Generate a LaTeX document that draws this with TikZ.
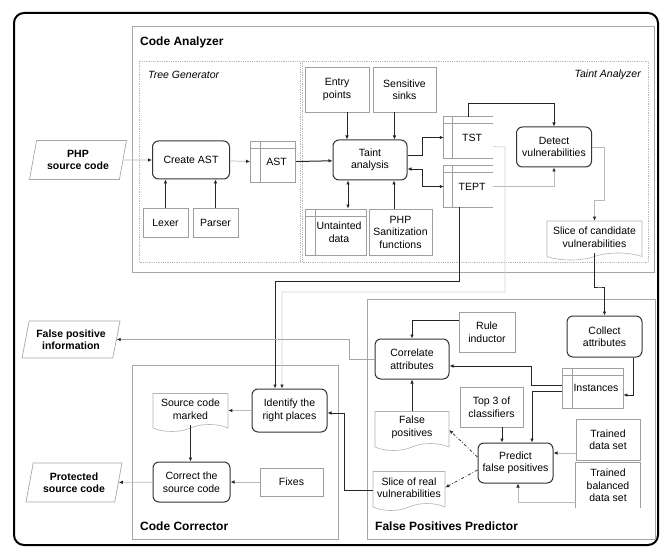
\documentclass[tikz,border=0pt]{standalone}
\usepackage{fontspec}
\setmainfont{Liberation Sans}
\usetikzlibrary{arrows.meta,shapes.geometric,shapes.symbols}

\tikzset{
    boxline/.style={draw=gray!75, line width=0.7pt},
}
% data store without a right side
\newcommand{\drawopenstore}[1]{%
    \draw[boxline] (#1.north east) -- (#1.north west) -- (#1.south west) -- (#1.south east);
    \draw[boxline] ([yshift=-7pt]#1.north west) -- ([yshift=-7pt]#1.north east);
    \draw[boxline] ([xshift=9pt]#1.north west) -- ([xshift=9pt]#1.south west);
}
\newcommand{\ind}{\hspace*{7pt}}

\begin{document}
\begin{tikzpicture}[
    x=1pt, y=-1pt,
    font=\fontsize{10.5}{12.5}\selectfont,
    proc/.style={draw=black!80, line width=1pt, rounded corners=6pt, align=center, inner sep=2pt},
    box/.style={boxline, align=center, inner sep=2pt},
    store/.style={boxline, align=center, inner sep=2pt,
        path picture={
            \draw[boxline] ([yshift=-7pt]path picture bounding box.north west) -- ([yshift=-7pt]path picture bounding box.north east);
            \draw[boxline] ([xshift=10pt]path picture bounding box.north west) -- ([xshift=10pt]path picture bounding box.south west);
        }},
    openstore/.style={align=center, inner sep=2pt},
    doc/.style={tape, tape bend top=none, tape bend height=7pt, draw=gray!60, line width=0.6pt, align=center, inner sep=2pt},
    io/.style={trapezium, trapezium left angle=72, trapezium right angle=108, trapezium stretches body,
        draw=gray!70, line width=0.7pt, align=center, inner sep=1pt, font=\fontsize{10.5}{12.5}\selectfont\bfseries},
    frame/.style={draw=gray!70, line width=1pt},
    zone/.style={draw=gray!55, densely dotted, line width=0.8pt},
    title/.style={font=\fontsize{12}{14}\selectfont\bfseries, anchor=west, inner sep=0pt},
    subtitle/.style={font=\fontsize{10.5}{12.5}\selectfont\itshape, inner sep=0pt},
    arrow/.style={-{Latex[length=4pt,width=3.5pt,color=black!85]}, line width=0.7pt, draw=black!85},
    garrow/.style={arrow, draw=gray!55},
    darrow/.style={arrow, dash dot}
  ]
    \useasboundingbox (0,0) rectangle (661,548);
    \draw[line width=2pt, rounded corners=10pt] (14,13) rectangle (658,545);

    % containers
    \draw[frame] (132,27) rectangle (654,272);
    \draw[zone] (139,61) rectangle (300,262);
    \draw[zone] (302,61) rectangle (648,262);
    \draw[frame] (367,299) rectangle (655,539);
    \draw[frame] (132,365) rectangle (338,539);
    \node[title] (catitle) at (140,42) {Code Analyzer};
    \node[subtitle, anchor=west] (tgtitle) at (148,75) {Tree Generator};
    \node[subtitle, anchor=east] (tatitle) at (641,75) {Taint Analyzer};
    \node[title] (fpptitle) at (375,526) {False Positives Predictor};
    \node[title] (cctitle) at (140,526) {Code Corrector};

    % code analyzer
    \node[io, minimum width=97pt, minimum height=39pt] (php) at (78,160) {PHP\\source code};
    \node[proc, minimum width=77pt, minimum height=38pt] (create) at (191,160) {Create AST};
    \node[store, minimum width=45pt, minimum height=41pt] (ast) at (273,162) {\ind AST};
    \node[box, minimum width=45pt, minimum height=29pt] (lexer) at (165.5,222.5) {Lexer};
    \node[box, minimum width=45pt, minimum height=29pt] (parser) at (215.5,222.5) {Parser};
    \node[proc, minimum width=74pt, minimum height=40pt] (taint) at (370,160) {Taint\\analysis};
    \node[box, minimum width=64pt, minimum height=45pt] (entry) at (337,89.5) {Entry\\points};
    \node[box, minimum width=63pt, minimum height=45pt] (sinks) at (404.5,89.5) {Sensitive\\sinks};
    \node[store, minimum width=61pt, minimum height=46pt] (untainted) at (335.5,232) {\ind Untainted\\\ind data};
    \node[box, minimum width=63pt, minimum height=46pt] (sanit) at (400.5,232) {PHP\\Sanitization\\functions};
    \node[openstore, minimum width=49pt, minimum height=41pt] (tst) at (468.5,137.5) {\ind TST};
    \node[openstore, minimum width=49pt, minimum height=41pt] (tept) at (468.5,186.5) {\ind TEPT};
    \drawopenstore{tst}
    \drawopenstore{tept}
    \node[proc, minimum width=75pt, minimum height=40pt] (detect) at (554,147) {Detect\\vulnerabilities};
    \node[doc, minimum width=95pt, minimum height=39pt] (cand) at (594.5,237) {Slice of candidate\\vulnerabilities};

    % false positives predictor
    \node[proc, minimum width=75pt, minimum height=41pt] (collect) at (604.5,336.5) {Collect\\attributes};
    \node[store, minimum width=61pt, minimum height=40pt] (inst) at (592.5,388) {\ind Instances};
    \node[proc, minimum width=74pt, minimum height=40pt] (correl) at (412,359) {Correlate\\attributes};
    \node[box, minimum width=56pt, minimum height=40pt] (rule) at (487,332) {Rule\\inductor};
    \node[box, minimum width=63pt, minimum height=40pt] (top3) at (491.5,407) {Top 3 of\\classifiers};
    \node[proc, minimum width=75pt, minimum height=40pt] (predict) at (515.5,463) {Predict\\false positives};
    \node[box, minimum width=64pt, minimum height=41pt] (trained) at (608,439.5) {Trained\\data set};
    \node[openstore, minimum width=64pt, minimum height=45pt] (balanced) at (608,485.5) {Trained\\balanced\\data set};
    \draw[boxline] (balanced.south west) -- (balanced.north west) -- (balanced.north east) -- (balanced.south east);
    \node[doc, minimum width=74pt, minimum height=39pt] (fpos) at (412,427.5) {False\\positives};
    \node[doc, minimum width=72pt, minimum height=39pt] (realv) at (409,487.5) {Slice of real\\vulnerabilities};

    % code corrector
    \node[proc, minimum width=75pt, minimum height=43pt] (identify) at (289.5,410.5) {Identify the\\right places};
    \node[doc, minimum width=75pt, minimum height=38pt] (marked) at (190.5,409) {Source code\\marked};
    \node[proc, minimum width=77pt, minimum height=40pt] (correct) at (191.5,482) {Correct the\\source code};
    \node[box, minimum width=63pt, minimum height=28pt] (fixes) at (291.5,482) {Fixes};
    \node[io, minimum width=96pt, minimum height=39pt] (protected) at (74,482.5) {Protected\\source code};
    \node[io, minimum width=98pt, minimum height=37pt] (fpinfo) at (71,339.5) {False positive\\information};

    % connectors
    \draw[garrow] (php) -- (create);
    \draw[garrow] (create) -- (ast);
    \draw[arrow] (lexer.north) -- (lexer.north |- create.south);
    \draw[arrow] (parser.north) -- (parser.north |- create.south);
    \draw[arrow, line width=1pt] (ast) -- (taint);
    \draw[arrow] ([xshift=10pt]entry.south) -- ([xshift=10pt]entry.south |- taint.north);
    \draw[arrow] ([xshift=-10pt]sinks.south) -- ([xshift=-10pt]sinks.south |- taint.north);
    \draw[arrow, {Latex[length=4pt,width=3.5pt]}-{Latex[length=4pt,width=3.5pt]}] ([xshift=-22pt]taint.south) -- ([xshift=-22pt]taint.south |- untainted.north);
    \draw[arrow] ([xshift=24pt]taint.south |- sanit.north) -- ([xshift=24pt]taint.south);
    \draw[arrow] ([yshift=5pt]taint.east) -- ++(15,0) |- (tst.west);
    \draw[arrow, {Latex[length=4pt,width=3.5pt]}-{Latex[length=4pt,width=3.5pt]}] ([yshift=-9pt]taint.east) -- ++(15,0) |- (tept.west);
    \draw[arrow] (tst.north) -- ++(0,-13) -| (detect.north);
    \draw[garrow] (tept.east) -| (detect.south);
    \draw[garrow] (detect.east) -| (604,200) -| (cand.north);
    \draw[garrow, draw=gray!35] ([yshift=-9pt]tst.east) -- (505,147) -- (505,292) -| ([xshift=-7.5pt]identify.north);
    \draw[arrow, line width=1pt] ([xshift=-9pt]tept.south) |- (275,281) -- ([xshift=-14.5pt]identify.north);
    \draw[arrow] (cand.south) |- (600,287) -| (collect.north);
    \draw[arrow] ([yshift=12pt]rule.west) -| (correl.north);
    \draw[arrow] ([xshift=28.5pt]collect.south) |- ([yshift=-7pt]inst.east);
    \draw[arrow] ([yshift=3pt]inst.west) -- ++(-30,0) |- ([yshift=-7pt]correl.east);
    \draw[arrow] ([yshift=-3pt]inst.west) -| ([xshift=16.5pt]predict.north);
    \draw[arrow] ([xshift=10.5pt]top3.south) -- ([xshift=10.5pt]top3.south |- predict.north);
    \draw[garrow] ([yshift=-13.5pt]trained.west) -- ([yshift=-13.5pt]trained.west -| predict.east);
    \draw[garrow] ([yshift=-16.5pt]balanced.west) -| ([xshift=2.5pt]predict.south);
    \draw[arrow] (fpos.north) -- (correl.south);
    \draw[darrow] ([yshift=6pt]predict.west) -- ([yshift=-2.5pt]fpos.east);
    \draw[darrow] ([yshift=-7pt]predict.west) -- (realv.east);
    \draw[arrow] ([yshift=-3pt]realv.west) -- ++(-28,0) |- ([yshift=-2.5pt]identify.east);
    \draw[arrow, draw=gray!70] (correl.west) -- ++(-25,0) |- (fpinfo.east);
    \draw[garrow] (identify.west) -- (identify.west -| marked.east);
    \draw[arrow] (marked.south) -- (marked.south |- correct.north);
    \draw[garrow] (fixes) -- (correct);
    \draw[garrow] (correct) -- (protected);
  \end{tikzpicture}
\end{document}
